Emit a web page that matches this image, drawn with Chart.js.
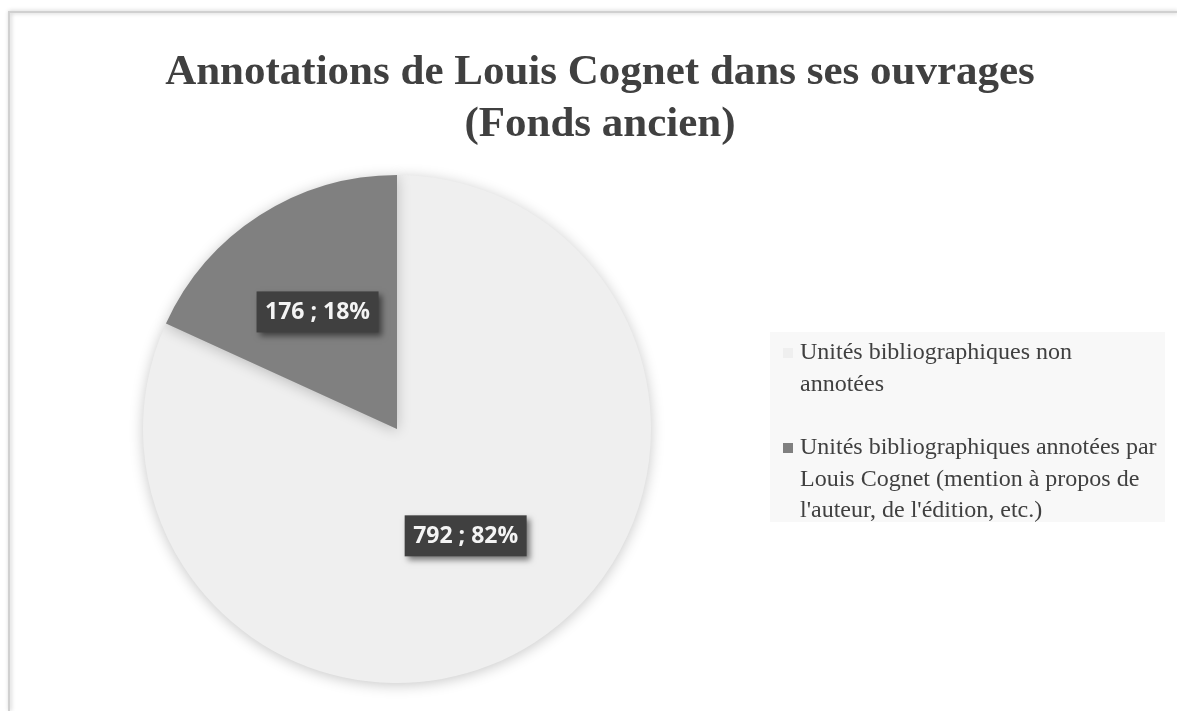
<!DOCTYPE html>
<html>
<head>
<meta charset="utf-8">
<script src="https://cdn.jsdelivr.net/npm/chart.js@4.4.1/dist/chart.umd.min.js"></script>
<style>
  html, body { margin: 0; padding: 0; background: #ffffff; }
  #wrap { position: relative; width: 1177px; height: 711px; }
  canvas { display: block; }
</style>
</head>
<body>
<div id="wrap"><canvas id="c" width="1177" height="711"></canvas></div>
<script>
const titleLines = ["Annotations de Louis Cognet dans ses ouvrages", "(Fonds ancien)"];
const categories = [
  "Unités bibliographiques non annotées",
  "Unités bibliographiques annotées par Louis Cognet (mention à propos de l'auteur, de l'édition, etc.)"
];
const legendLines = [
  ["Unités bibliographiques non", "annotées"],
  ["Unités bibliographiques annotées par", "Louis Cognet (mention à propos de", "l'auteur, de l'édition, etc.)"]
];
const values = [792, 176];
const percents = [82, 18];
const colors = ["#efefef", "#808080"];

const framePlugin = {
  id: 'frame',
  beforeDraw(chart) {
    const ctx = chart.ctx;
    ctx.save();
    ctx.fillStyle = '#ffffff';
    ctx.fillRect(0, 0, chart.width, chart.height);
    ctx.shadowColor = 'rgba(0,0,0,0.25)';
    ctx.shadowBlur = 4;
    ctx.shadowOffsetX = 1;
    ctx.strokeStyle = '#d0d0d0';
    ctx.lineWidth = 2;
    ctx.beginPath();
    ctx.moveTo(9, chart.height);
    ctx.lineTo(9, 12);
    ctx.lineTo(chart.width, 12);
    ctx.stroke();
    ctx.restore();
    // title
    ctx.save();
    ctx.fillStyle = '#404040';
    ctx.font = 'bold 43px "Liberation Serif", "Times New Roman", serif';
    ctx.textAlign = 'center';
    ctx.textBaseline = 'alphabetic';
    ctx.fillText(titleLines[0], 600, 84);
    ctx.fillText(titleLines[1], 600, 136);
    ctx.restore();
    // legend box
    ctx.save();
    ctx.fillStyle = '#f8f8f8';
    ctx.fillRect(770, 332, 395, 190);
    ctx.font = '24px "Liberation Serif", "Times New Roman", serif';
    ctx.textBaseline = 'alphabetic';
    const starts = [359, 454];
    legendLines.forEach((lines, i) => {
      ctx.fillStyle = colors[i];
      ctx.fillRect(783, starts[i] - 11, 10, 10);
      ctx.fillStyle = '#404040';
      lines.forEach((t, j) => ctx.fillText(t, 800, starts[i] + j * 31.5));
    });
    ctx.restore();
  },
  beforeDatasetsDraw(chart) {
    const ctx = chart.ctx;
    ctx.save();
    ctx.shadowColor = 'rgba(0,0,0,0.22)';
    ctx.shadowBlur = 14;
    ctx.shadowOffsetX = 0;
    ctx.shadowOffsetY = 2;
  },
  afterDatasetsDraw(chart) {
    chart.ctx.restore();
    const ctx = chart.ctx;
    const meta = chart.getDatasetMeta(0);
    const radial = [0.50, 0.557];
    const angShift = [0, -0.025];
    meta.data.forEach((arc, i) => {
      const p = arc.getProps(['x', 'y', 'startAngle', 'endAngle', 'outerRadius'], true);
      const mid = (p.startAngle + p.endAngle) / 2 + angShift[i];
      const r = p.outerRadius * radial[i];
      const cx = p.x + Math.cos(mid) * r;
      const cy = p.y + Math.sin(mid) * r;
      const text = values[i] + ' ; ' + percents[i] + '%';
      ctx.save();
      ctx.font = 'bold 23px "Open Sans", "DejaVu Sans", sans-serif';
      const tw = ctx.measureText(text).width;
      const w = tw + 17, h = 41;
      ctx.shadowColor = 'rgba(0,0,0,0.5)';
      ctx.shadowBlur = 6;
      ctx.shadowOffsetX = 3;
      ctx.shadowOffsetY = 4;
      ctx.fillStyle = '#404040';
      ctx.fillRect(cx - w / 2, cy - h / 2, w, h);
      ctx.shadowColor = 'transparent';
      ctx.fillStyle = '#f4f4f4';
      ctx.textAlign = 'center';
      ctx.textBaseline = 'middle';
      ctx.fillText(text, cx, cy + 1);
      ctx.restore();
    });
  }
};

new Chart(document.getElementById('c'), {
  type: 'pie',
  data: {
    labels: categories,
    datasets: [{
      data: values,
      backgroundColor: colors,
      borderWidth: 0
    }]
  },
  options: {
    responsive: false,
    animation: false,
    layout: { padding: { left: 143, right: 526, top: 175, bottom: 28 } },
    plugins: {
      legend: { display: false },
      title: { display: false },
      tooltip: { enabled: false }
    }
  },
  plugins: [framePlugin]
});
</script>
</body>
</html>
